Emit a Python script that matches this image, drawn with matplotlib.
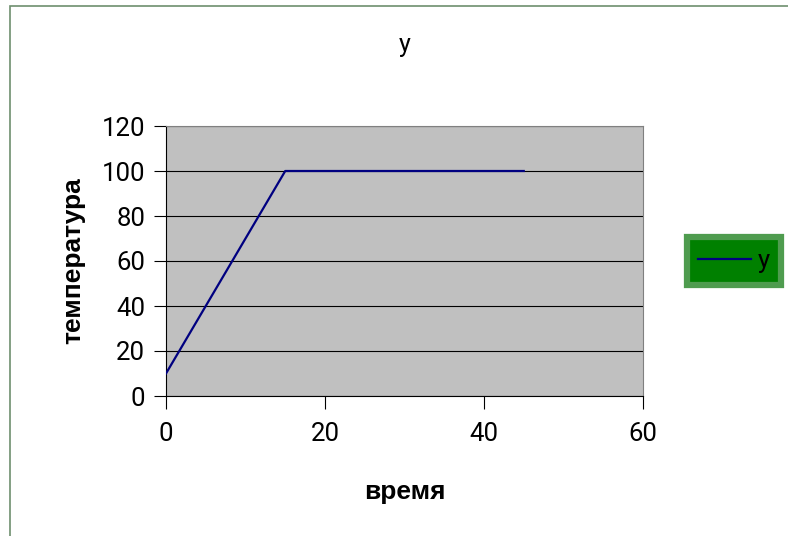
import matplotlib
matplotlib.use("Agg")
import matplotlib.pyplot as plt
from matplotlib.patches import Rectangle

plt.rcParams['font.family'] = ['Roboto', 'DejaVu Sans']

# series data
time_vals = [0, 15, 45]
temp_vals = [10, 100, 100]
x_ticks = [0, 20, 40, 60]
y_ticks = [0, 20, 40, 60, 80, 100, 120]

fig = plt.figure(figsize=(7.88, 5.36), dpi=100)
fig.patch.set_facecolor('white')

# chart frame (left and top edges visible)
frame = Rectangle((10 / 788, -0.1), 1.2, (536 - 6) / 536 + 0.1,
                  transform=fig.transFigure, fill=False,
                  edgecolor='#6e8f6e', linewidth=1.2)
fig.add_artist(frame)

ax = fig.add_axes([166 / 788, 1 - 396 / 536, (643 - 166) / 788, (396 - 126) / 536])
ax.set_facecolor('#c0c0c0')
ax.plot(time_vals, temp_vals, color='#000080', linewidth=1.6, label='y', zorder=3)

ax.set_xlim(0, 60)
ax.set_ylim(0, 120)
ax.set_xticks(x_ticks)
ax.set_yticks(y_ticks)
ax.grid(axis='y', color='black', linewidth=0.8)
ax.set_axisbelow(True)

for side in ['top', 'right']:
    ax.spines[side].set_color('#808080')
for side in ['left', 'bottom']:
    ax.spines[side].set_color('black')
    ax.spines[side].set_linewidth(0.8)

ax.tick_params(axis='both', direction='out', length=9, width=0.8,
               labelsize=18.5, colors='black')
ax.tick_params(axis='x', pad=10)
ax.tick_params(axis='y', pad=6)

ax.set_title('y', fontsize=18, pad=53)
bold = ['Liberation Sans', 'DejaVu Sans']
ax.set_xlabel('время', fontsize=19, fontweight='bold', labelpad=24, family=bold)
ax.set_ylabel('температура', fontsize=19, fontweight='bold', labelpad=12, family=bold)

leg = fig.legend(loc='center', bbox_to_anchor=(734 / 788, 1 - 261 / 536),
                 fontsize=18.5, frameon=True, fancybox=False, framealpha=1,
                 handlelength=2.05, borderpad=0.45, handletextpad=0.25,
                 borderaxespad=0)
frm = leg.get_frame()
frm.set_facecolor('#008000')
frm.set_edgecolor('#4f9c4f')
frm.set_linewidth(4.5)

fig.savefig('out.png', dpi=100)
